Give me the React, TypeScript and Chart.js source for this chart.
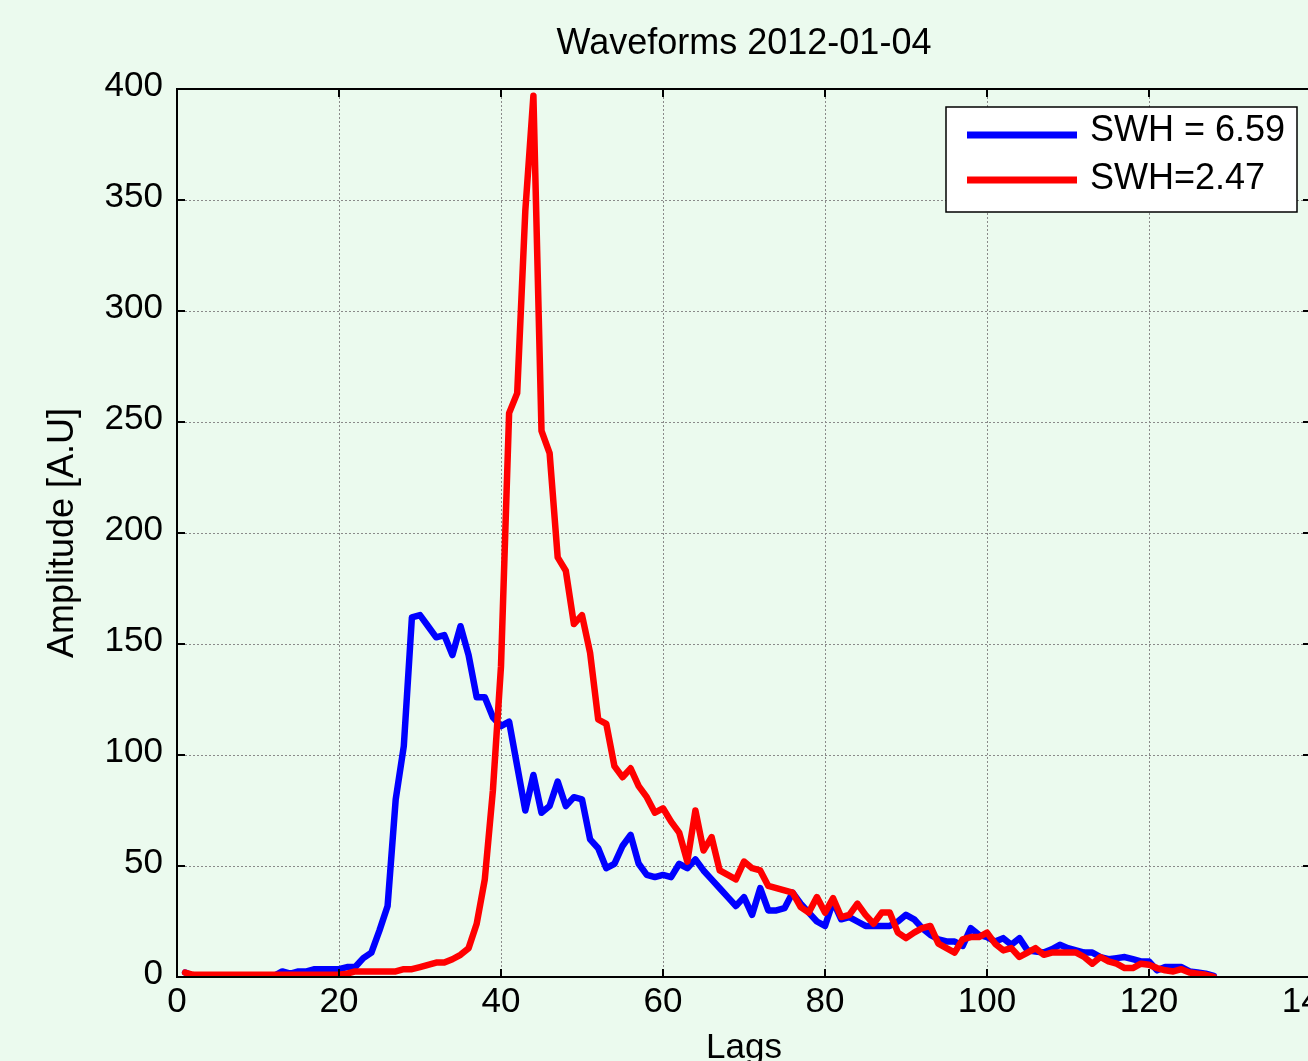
import React, { useEffect, useRef } from "react";
import { Chart, registerables } from "chart.js";

Chart.register(...registerables);

// ---- data ----
const LAGS: number[] = Array.from({ length: 128 }, (_, i) => i + 1);

const SWH_659: number[] = [
  2, 0.5, 0.5, 0.5, 0.5, 0.5, 0.5, 0.5, 0.5, 0.5,
  0.5, 0.5, 2.5, 1.5, 2.5, 2.5, 3.5, 3.5, 3.5, 3.5,
  4.5, 4.5, 8.5, 11, 21, 32, 80, 104, 162, 163,
  158, 153, 154, 145, 158, 145, 126, 126, 117, 113,
  115, 95, 75, 91, 74, 77, 88, 77, 81, 80,
  62, 58, 49, 51, 59, 64, 51, 46, 45, 46,
  45, 51, 49, 53, 48, 44, 40, 36, 32, 36,
  28, 40, 30, 30, 31, 38, 33, 29, 25, 23,
  34, 26, 27, 25, 23, 23, 23, 23, 25, 28,
  26, 22, 19, 17, 16, 16, 14, 22, 19, 18,
  16, 17.5, 14.5, 17.5, 12, 11.5, 11, 12.5, 14.5, 13,
  12, 11, 11, 9, 8, 8.5, 9, 8, 7, 7,
  3, 4.5, 4.5, 4.5, 2.5, 2, 1.5, 0.5,
];

const SWH_247: number[] = [
  2, 1, 1, 1, 1, 1, 1, 1, 1, 1,
  1, 1, 1, 1, 1, 1, 1, 1, 1, 1,
  1.5, 2.5, 2.5, 2.5, 2.5, 2.5, 2.5, 3.5, 3.5, 4.5,
  5.5, 6.5, 6.5, 8, 10, 13, 24, 44, 84, 140,
  254, 263, 345, 397, 246, 236, 189, 183, 159, 163,
  146, 116, 114, 95, 90, 94, 86, 81, 74, 76,
  70, 65, 52, 75, 57, 63, 48, 46, 44, 52,
  49, 48, 41, 40, 39, 38, 31.5, 29, 36, 29,
  35.5, 27, 28, 33, 28, 24, 29, 29, 20, 17.5,
  20, 22, 23, 15, 13, 11, 17, 18, 18, 20,
  15, 12, 13, 9, 11, 13, 10, 11, 11, 11,
  11, 9, 6, 9, 7, 6, 4, 4, 6, 5.5,
  4, 3, 2.5, 3.5, 2, 1.5, 1, 0,
];

const SERIES_LABELS = ["SWH = 6.59", "SWH=2.47"];
const SERIES_COLORS = ["#0000ff", "#ff0000"];
const TITLE = "Waveforms 2012-01-04";
const X_LABEL = "Lags";
const Y_LABEL = "Amplitude [A.U]";
const X_MIN = 0;
const X_MAX = 140;
const X_STEP = 20;
const Y_MIN = 0;
const Y_MAX = 400;
const Y_STEP = 50;

// ---- style ----
const FONT = '"Liberation Sans", Arial, Helvetica, sans-serif';
const FONT_SIZE = 35;
const BG = "#ebfaee";
const CANVAS_W = 1330;
const CANVAS_H = 1080;
const AREA_LEFT = 177;
const AREA_RIGHT = 1311;
const AREA_BOTTOM = 977;

const boxPlugin = {
  id: "matlabBox",
  afterDatasetsDraw(chart: any) {
    const { ctx, chartArea } = chart;
    const { left, right, top, bottom } = chartArea;
    ctx.save();
    ctx.strokeStyle = "#000";
    ctx.lineWidth = 2;
    ctx.setLineDash([]);
    ctx.strokeRect(left, top, right - left, bottom - top);
    const tl = 8;
    const xs = chart.scales.x;
    xs.ticks.forEach((t: any) => {
      const p = Math.round(xs.getPixelForValue(t.value));
      ctx.beginPath();
      ctx.moveTo(p, bottom);
      ctx.lineTo(p, bottom - tl);
      ctx.moveTo(p, top);
      ctx.lineTo(p, top + tl);
      ctx.stroke();
    });
    const ys = chart.scales.y;
    ys.ticks.forEach((t: any) => {
      const p = Math.round(ys.getPixelForValue(t.value));
      ctx.beginPath();
      ctx.moveTo(left, p);
      ctx.lineTo(left + tl, p);
      ctx.moveTo(right, p);
      ctx.lineTo(right - tl, p);
      ctx.stroke();
    });
    ctx.restore();
  },
};

const legendPlugin = {
  id: "matlabLegend",
  afterDatasetsDraw(chart: any) {
    const { ctx, chartArea } = chart;
    const x0 = chartArea.right - 365;
    const y0 = chartArea.top + 18;
    const w = 351;
    const h = 105;
    ctx.save();
    ctx.fillStyle = "#fff";
    ctx.fillRect(x0, y0, w, h);
    ctx.strokeStyle = "#000";
    ctx.lineWidth = 1.5;
    ctx.setLineDash([]);
    ctx.strokeRect(x0, y0, w, h);
    chart.data.datasets.forEach((ds: any, i: number) => {
      const ly = y0 + 28 + i * 45;
      ctx.strokeStyle = ds.borderColor;
      ctx.lineWidth = 7;
      ctx.beginPath();
      ctx.moveTo(x0 + 21, ly);
      ctx.lineTo(x0 + 131, ly);
      ctx.stroke();
      ctx.fillStyle = "#000";
      ctx.font = `36px ${FONT}`;
      ctx.textBaseline = "middle";
      ctx.textAlign = "left";
      ctx.fillText(ds.label, x0 + 144, y0 + 24 + i * 48);
    });
    ctx.restore();
  },
};

export default function App() {
  const ref = useRef<HTMLCanvasElement>(null);

  useEffect(() => {
    const canvas = ref.current;
    if (!canvas) return;
    const font = { family: FONT, size: FONT_SIZE, weight: "normal" as const, lineHeight: 1.2 };
    const chart = new Chart(canvas, {
      type: "line",
      data: {
        labels: LAGS,
        datasets: [
          {
            label: SERIES_LABELS[0],
            data: SWH_659,
            borderColor: SERIES_COLORS[0],
            backgroundColor: SERIES_COLORS[0],
            borderWidth: 6.5,
            pointRadius: 0,
            tension: 0,
            fill: false,
            borderJoinStyle: "round",
            borderCapStyle: "round",
            order: 1,
          },
          {
            label: SERIES_LABELS[1],
            data: SWH_247,
            borderColor: SERIES_COLORS[1],
            backgroundColor: SERIES_COLORS[1],
            borderWidth: 6.5,
            pointRadius: 0,
            tension: 0,
            fill: false,
            borderJoinStyle: "round",
            borderCapStyle: "round",
            order: 0,
          },
        ],
      },
      options: {
        responsive: false,
        animation: false,
        devicePixelRatio: 1,
        layout: { padding: { left: 0, right: CANVAS_W - AREA_RIGHT, top: 0, bottom: 0 } },
        plugins: {
          legend: { display: false },
          tooltip: { enabled: false },
          title: {
            display: true,
            text: TITLE,
            color: "#000",
            font: { ...font, size: 36 },
            padding: { top: 22, bottom: 23.8 },
            fullSize: false,
          },
        },
        scales: {
          x: {
            type: "linear",
            min: X_MIN,
            max: X_MAX,
            afterFit: (s: any) => {
              s.height = CANVAS_H - AREA_BOTTOM;
              s.paddingLeft = 0;
              s.paddingRight = 0;
            },
            ticks: {
              stepSize: X_STEP,
              color: "#000",
              font,
              padding: 4,
              maxRotation: 0,
              autoSkip: false,
            },
            grid: { color: "#8a8a8a", lineWidth: 1, drawTicks: false },
            border: { display: false, dash: [2, 2] },
            title: {
              display: true,
              text: X_LABEL,
              color: "#000",
              font,
              padding: { top: 0, bottom: 11 },
            },
          },
          y: {
            type: "linear",
            min: Y_MIN,
            max: Y_MAX,
            afterFit: (s: any) => {
              s.width = AREA_LEFT;
              s.paddingTop = 0;
              s.paddingBottom = 0;
            },
            ticks: {
              stepSize: Y_STEP,
              color: "#000",
              font,
              padding: 14,
              labelOffset: -3,
            },
            grid: { color: "#8a8a8a", lineWidth: 1, drawTicks: false },
            border: { display: false, dash: [2, 2] },
            title: {
              display: true,
              text: Y_LABEL,
              color: "#000",
              font: { ...font, size: 36 },
              padding: { top: 41, bottom: 0 },
            },
          },
        },
      } as any,
      plugins: [boxPlugin, legendPlugin],
    });
    return () => chart.destroy();
  }, []);

  return (
    <div
      style={{
        position: "fixed",
        left: 0,
        top: 0,
        width: 1308,
        height: 1061,
        overflow: "hidden",
        background: BG,
      }}
    >
      <canvas
        ref={ref}
        width={CANVAS_W}
        height={CANVAS_H}
        style={{ display: "block", width: CANVAS_W, height: CANVAS_H }}
      />
    </div>
  );
}
